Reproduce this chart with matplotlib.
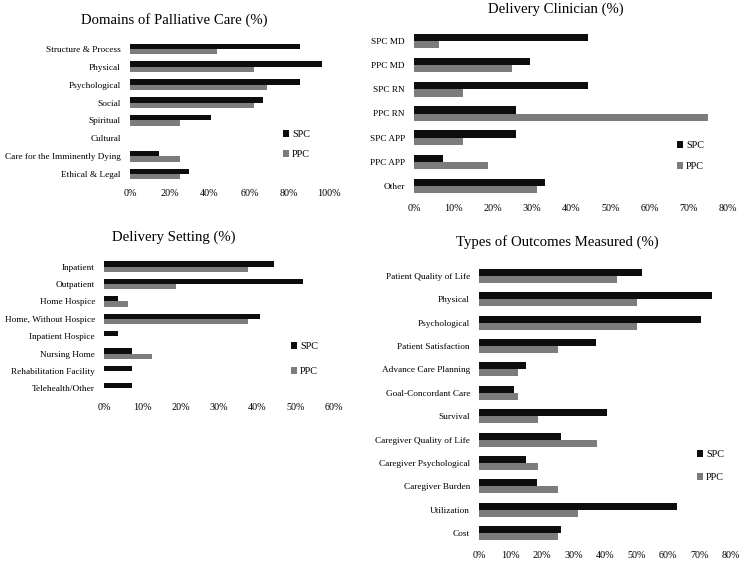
import matplotlib
matplotlib.use("Agg")
import matplotlib.pyplot as plt
import numpy as np

W, H = 741, 562

# data (% of studies)
domains = ["Structure & Process", "Physical", "Psychological", "Social",
           "Spiritual", "Cultural", "Care for the Imminently Dying", "Ethical & Legal"]
dom_spc = [85.2, 96.3, 85.2, 66.7, 40.7, 0, 14.8, 29.6]
dom_ppc = [43.8, 62.5, 68.8, 62.5, 25.0, 0, 25.0, 25.0]

clinicians = ["SPC MD", "PPC MD", "SPC RN", "PPC RN", "SPC APP", "PPC APP", "Other"]
cli_spc = [44.4, 29.6, 44.4, 25.9, 25.9, 7.4, 33.3]
cli_ppc = [6.3, 25.0, 12.5, 75.0, 12.5, 18.8, 31.3]

settings = ["Inpatient", "Outpatient", "Home Hospice", "Home, Without Hospice",
            "Inpatient Hospice", "Nursing Home", "Rehabilitation Facility", "Telehealth/Other"]
set_spc = [44.4, 51.9, 3.7, 40.7, 3.7, 7.4, 7.4, 7.4]
set_ppc = [37.5, 18.8, 6.3, 37.5, 0, 12.5, 0, 0]

outcomes = ["Patient Quality of Life", "Physical", "Psychological", "Patient Satisfaction",
            "Advance Care Planning", "Goal-Concordant Care", "Survival",
            "Caregiver Quality of Life", "Caregiver Psychological", "Caregiver Burden",
            "Utilization", "Cost"]
out_spc = [51.9, 74.1, 70.4, 37.0, 14.8, 11.1, 40.7, 25.9, 14.8, 18.5, 63.0, 25.9]
out_ppc = [43.8, 50.0, 50.0, 25.0, 12.5, 12.5, 18.8, 37.5, 18.8, 25.0, 31.3, 25.0]

plt.rcParams['font.family'] = ['Liberation Serif', 'DejaVu Serif']
SPC_COLOR = "#0d0d0d"
PPC_COLOR = "#7c7c7c"
LABEL_SIZE = 6.7

fig = plt.figure(figsize=(W / 100, H / 100), dpi=100)


def draw_panel(box, cats, spc, ppc, xmax, step, title, title_xy, legend_xy, legend_gap):
    left, top, right, bottom = box
    ax = fig.add_axes([left / W, 1 - bottom / H, (right - left) / W, (bottom - top) / H])
    y = np.arange(len(cats))
    h = 0.3
    b1 = ax.barh(y - h / 2, spc, height=h, color=SPC_COLOR, label="SPC")
    b2 = ax.barh(y + h / 2, ppc, height=h, color=PPC_COLOR, label="PPC")
    ax.set_ylim(len(cats) - 0.5, -0.5)
    ax.set_xlim(0, xmax)
    ax.set_yticks(y)
    ax.set_yticklabels(cats)
    ticks = np.arange(0, xmax + 1, step)
    ax.set_xticks(ticks)
    ax.set_xticklabels([f"{t}%" for t in ticks])
    ax.tick_params(length=0, labelsize=LABEL_SIZE)
    ax.tick_params(axis="x", labelsize=7.3, pad=4)
    ax.tick_params(axis="y", pad=6.5)
    for s in ax.spines.values():
        s.set_visible(False)
    fig.text(title_xy[0] / W, 1 - title_xy[1] / H, title, ha="center", va="center",
             fontsize=10.6)
    ax.legend([b1, b2], ["SPC", "PPC"], loc="upper left",
              bbox_to_anchor=(legend_xy[0] / W, 1 - legend_xy[1] / H),
              bbox_transform=fig.transFigure, frameon=False, fontsize=7.3,
              handlelength=0.6, handleheight=0.6, handletextpad=0.3,
              borderpad=0, borderaxespad=0, labelspacing=legend_gap)
    return ax


draw_panel((130, 40, 329, 183), domains, dom_spc, dom_ppc, 100, 20,
           "Domains of Palliative Care (%)", (174, 20), (283, 130), 1.1)
draw_panel((414, 29, 728, 198), clinicians, cli_spc, cli_ppc, 80, 10,
           "Delivery Clinician (%)", (556, 9), (677, 141), 1.2)
draw_panel((104, 258, 334, 397), settings, set_spc, set_ppc, 60, 10,
           "Delivery Setting (%)", (174, 237), (291, 342), 1.6)
draw_panel((479, 264, 731, 545), outcomes, out_spc, out_ppc, 80, 10,
           "Types of Outcomes Measured (%)", (557, 242), (697, 450), 1.4)

fig.savefig("out.png", dpi=100)
